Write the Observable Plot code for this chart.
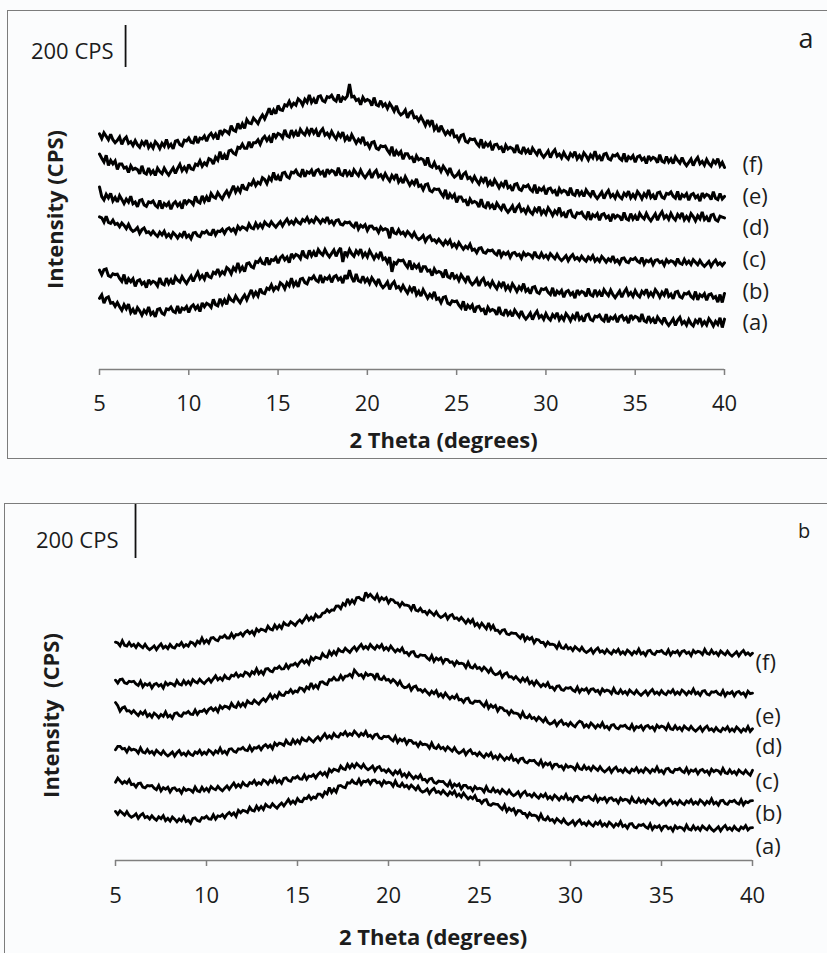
<!DOCTYPE html>
<html>
<head>
<meta charset="utf-8">
<script src="https://cdn.jsdelivr.net/npm/d3@7"></script>
<script src="https://cdn.jsdelivr.net/npm/@observablehq/plot@0.6"></script>
<style>
  html, body { margin: 0; padding: 0; overflow: hidden; width: 827px; height: 953px; background: #fbfcfd; }
  .panel { position: absolute; border: 1.5px solid #7c7c7c; }
  #panelA { left: 6.5px; top: 9.5px; width: 840px; height: 447px; }
  #panelB { left: 3.5px; top: 502.5px; width: 840px; height: 470px; }
  .panel svg { display: block; }
</style>
</head>
<body>
<div id="panelA" class="panel"></div>
<div id="panelB" class="panel"></div>
<script>
// ---- axis / label text ----
const xTicks = [5, 10, 15, 20, 25, 30, 35, 40];
const sampleLabels = ["(a)", "(b)", "(c)", "(d)", "(e)", "(f)"];
const panelTags = ["a", "b"];
const scaleBarCps = 200;
const xTitle = "2 Theta (degrees)";
const yTitles = ["Intensity (CPS)", "Intensity\u00a0 (CPS)"];

// ---- diffractograms, stacked counts (CPS), 2θ = 5° … 40° every 0.125° (8 readings per degree) ----
// panel a
const patternA_a = [
  339,355,316,340,346,316,319,301, 319,299,282,308,289,311,271,287, 264,294,279,259,282,268,298,262,
  273,251,286,290,268,262,289,285, 297,277,271,303,268,292,286,300, 272,298,308,288,302,276,317,299,
  315,309,296,334,309,303,337,311, 332,310,347,331,324,350,332,318, 339,355,332,356,379,349,368,350,
  385,365,361,387,381,403,377,393, 383,413,404,384,413,399,435,399, 416,394,430,434,414,408,435,431,
  445,425,418,450,413,437,430,444, 415,441,447,427,437,411,449,431, 473,437,417,455,423,417,444,418,
  432,410,437,421,405,431,404,390, 401,417,382,406,418,388,395,377, 400,380,364,390,372,394,356,372,
  350,380,360,340,358,344,370,334, 340,318,343,347,316,310,327,323, 326,306,293,325,282,306,293,307,
  272,298,301,281,287,261,296,278, 286,280,260,298,266,260,287,261, 275,253,283,267,252,278,254,240,
  253,269,238,262,277,247,257,239, 266,246,235,261,248,270,237,253, 236,266,252,232,256,242,274,238,
  250,228,259,263,238,232,254,250, 259,239,231,263,225,249,241,255, 225,251,257,237,247,221,259,241,
  253,247,227,265,232,226,254,228, 241,219,250,234,221,247,224,210, 225,241,210,234,248,218,229,211,
  238,218,208,234,222,244,212,228, 212,242,227,207,229,215,246,200, 240
];
const patternA_b = [
  473,451,475,479,447,441,456,452, 454,434,420,452,408,432,418,432, 396,422,427,407,416,390,427,409,
  420,414,398,436,409,403,435,409, 427,405,441,425,416,442,424,410, 429,445,419,443,463,433,448,430,
  462,442,437,463,456,478,450,466, 455,485,476,456,485,471,507,471, 488,466,504,508,490,484,514,510,
  526,506,502,534,499,523,519,533, 506,532,542,522,535,509,551,533, 548,542,528,566,539,533,567,541,
  560,538,571,555,545,571,550,536, 553,569,539,563,579,512,561,543, 571,551,539,565,551,573,538,554,
  536,566,547,527,547,533,560,524, 531,509,535,465,509,503,521,517, 521,501,487,519,475,499,485,499,
  463,489,489,469,473,447,479,461, 467,461,438,476,442,436,461,435, 446,424,451,435,419,445,418,404,
  415,431,398,422,434,404,413,395, 419,399,385,411,395,417,382,398, 378,408,392,372,394,380,409,373,
  383,361,391,395,368,362,384,380, 387,367,357,389,349,373,362,376, 344,370,376,356,366,340,378,360,
  372,366,348,386,356,350,380,354, 370,348,380,364,352,378,356,342, 358,374,344,368,384,354,366,348,
  376,356,346,372,360,382,350,366, 350,380,365,345,368,354,384,348, 359,337,368,372,347,341,363,359,
  368,348,339,371,332,356,347,361, 330,356,360,340,347,321,357,319, 362
];
const patternA_c = [
  727,722,702,730,701,696,711,691, 696,680,698,686,671,691,669,658, 664,676,648,666,674,652,656,643,
  658,644,634,654,641,658,632,644, 629,652,641,626,644,634,658,630, 640,623,650,653,637,633,654,650,
  660,645,643,667,641,659,657,668, 648,668,674,660,670,651,681,667, 679,674,665,693,675,670,696,676,
  692,676,702,690,683,703,689,678, 692,704,684,702,716,694,706,693, 715,701,694,714,706,723,700,712,
  701,724,712,697,714,704,726,698, 707,690,710,713,692,688,702,698, 702,687,678,702,669,687,678,689,
  662,682,683,669,672,653,678,664, 670,665,625,677,651,646,666,646, 654,638,657,645,631,651,630,619,
  626,638,610,628,636,614,618,605, 620,606,593,613,598,615,586,598, 581,604,588,573,587,577,596,568,
  573,556,577,580,558,554,569,565, 569,554,546,570,539,557,548,559, 534,554,557,543,549,530,556,542,
  551,546,532,560,537,532,553,533, 544,528,551,539,528,548,530,519, 530,542,518,536,547,525,533,520,
  539,525,516,536,525,542,516,528, 515,538,526,511,527,517,540,512, 521,504,528,531,513,509,527,523,
  531,516,509,533,502,520,513,524, 500,520,523,509,515,496,523,509, 518,513,500,528,506,501,524,504,
  516,500,523,511,499,519,502,491, 502,514,491,509,521,499,508,495, 508
];
const patternA_d = [
  869,823,808,834,817,839,803,819, 798,828,810,790,811,797,825,789, 797,775,805,809,783,777,798,794,
  802,782,773,805,766,790,780,794, 763,789,799,779,792,766,808,790, 805,799,786,824,799,793,827,801,
  822,800,838,822,816,842,826,812, 834,850,827,851,875,845,864,846, 881,861,858,884,879,901,876,892,
  883,913,905,885,915,901,939,903, 921,899,935,939,918,912,940,936, 949,929,922,954,918,942,935,949,
  920,946,952,932,942,916,954,936, 948,942,923,961,930,924,952,926, 941,919,951,935,923,949,927,913,
  929,945,912,936,948,918,927,909, 933,913,898,924,908,930,893,909, 888,918,898,878,896,882,908,872,
  878,856,880,884,852,846,861,857, 859,839,824,856,811,835,819,833, 796,822,822,802,806,780,812,794,
  800,794,773,811,777,771,798,772, 784,762,792,776,762,788,763,749, 763,779,747,771,784,754,764,746,
  771,751,740,766,753,775,741,757, 740,770,754,734,756,742,771,735, 745,723,753,757,730,724,746,742,
  749,729,720,752,713,737,728,742, 711,737,742,722,731,705,741,723, 734,728,710,748,718,712,742,716,
  732,710,743,727,717,743,722,708, 725,741,711,735,751,721,733,715, 743,723,712,738,724,746,713,729,
  712,742,728,708,732,718,750,714, 726,704,735,739,713,707,730,726, 722
];
const patternA_e = [
  1026,1006,988,1020,972,996,979,993, 953,979,979,959,964,938,970,952, 958,952,932,970,937,931,959,933,
  946,924,959,943,933,959,940,926, 944,960,934,958,977,947,963,945, 976,956,952,978,972,994,968,984,
  974,1004,998,978,1011,997,1037,1001, 1021,999,1041,1045,1030,1024,1058,1054, 1073,1053,1053,1085,1056,1080,1080,1094,
  1072,1098,1110,1090,1106,1080,1124,1106, 1124,1118,1103,1141,1113,1107,1140,1114, 1132,1110,1143,1127,1117,1143,1122,1148,
  1125,1141,1109,1133,1146,1116,1126,1108, 1133,1113,1098,1124,1108,1130,1093,1109, 1088,1118,1098,1078,1096,1082,1108,1072,
  1078,1056,1081,1085,1054,1048,1065,1061, 1064,1044,1029,1061,1016,1040,1024,1038, 1001,1027,1027,1007,1011,985,1017,999,
  1005,999,972,1010,970,964,985,959, 965,943,968,952,933,959,930,916, 925,941,905,929,939,909,915,897,
  919,899,884,910,894,916,879,895, 874,904,886,866,887,873,901,865, 873,851,881,885,859,853,874,870,
  878,858,848,880,839,863,853,867, 834,860,864,844,852,826,861,843, 853,847,828,866,835,829,857,831,
  846,824,855,839,826,852,828,814, 829,845,814,838,853,823,834,816, 843,823,813,839,827,849,817,833,
  817,847,833,813,837,823,855,819, 831,809,841,845,821,815,839,835, 845,825,816,848,808,832,823,837,
  806,832,838,818,828,802,840,822, 834,828,809,847,815,809,838,812, 824
];
const patternA_f = [
  1122,1100,1127,1111,1094,1120,1094,1080, 1091,1107,1072,1096,1107,1077,1085,1067, 1090,1070,1058,1084,1070,1092,1057,1073,
  1055,1085,1072,1052,1077,1063,1096,1060, 1073,1051,1087,1091,1071,1065,1092,1088, 1102,1082,1079,1111,1078,1102,1098,1112,
  1087,1113,1125,1105,1121,1095,1139,1121, 1139,1133,1123,1161,1140,1134,1172,1146, 1170,1148,1190,1174,1171,1197,1185,1171,
  1196,1212,1193,1217,1244,1214,1236,1218, 1257,1237,1234,1260,1255,1277,1252,1268, 1259,1289,1279,1259,1287,1273,1308,1272,
  1288,1266,1299,1303,1280,1274,1299,1295, 1306,1286,1278,1310,1272,1296,1288,1302, 1360,1298,1301,1281,1287,1261,1296,1278,
  1286,1280,1257,1295,1261,1255,1280,1254, 1265,1243,1267,1251,1230,1256,1226,1212, 1220,1236,1198,1222,1229,1199,1203,1185,
  1204,1184,1162,1188,1165,1187,1143,1159, 1131,1161,1139,1119,1134,1120,1144,1108, 1112,1090,1115,1119,1087,1081,1098,1094,
  1097,1077,1064,1096,1054,1078,1065,1079, 1044,1070,1073,1053,1059,1033,1068,1050, 1058,1052,1032,1070,1037,1031,1059,1033,
  1046,1024,1054,1038,1023,1049,1025,1011, 1025,1041,1009,1033,1046,1016,1026,1008, 1033,1013,1002,1028,1015,1037,1003,1019,
  1002,1032,1018,998,1022,1008,1040,1004, 1016,994,1025,1029,1004,998,1021,1017, 1026,1006,997,1029,989,1013,1004,1018,
  987,1013,1018,998,1007,981,1017,999, 1010,1004,985,1023,992,986,1014,988, 1003,981,1012,996,983,1009,985,971,
  986,1002,971,995,1010,980,991,973, 1000,980,969,995,982,1004,970,986, 962
];

// panel b
const patternB_a = [
  182,171,184,176,168,181,167,160, 165,173,156,168,174,159,163,154, 166,156,149,162,155,166,148,156,
  146,161,153,143,154,147,162,144, 149,138,156,158,148,145,159,157, 164,154,153,169,153,165,163,170,
  158,171,178,168,176,163,186,177, 186,183,178,197,186,183,201,188, 200,189,208,200,197,210,201,194,
  205,213,202,214,226,211,220,211, 229,219,218,231,229,240,227,235, 231,246,246,236,254,247,270,252,
  264,253,276,278,272,269,288,286, 297,287,284,300,282,294,291,298, 284,297,298,288,291,278,295,286,
  290,287,275,294,277,274,286,273, 278,267,279,271,262,275,260,253, 257,265,248,260,267,252,256,247,
  259,249,241,254,246,257,238,246, 235,250,238,228,236,229,240,222, 223,212,223,225,207,204,211,209,
  208,198,189,205,182,194,185,192, 172,185,184,174,174,161,176,167, 168,165,152,171,153,150,161,148,
  152,141,155,147,140,153,140,133, 139,147,131,143,150,135,140,131, 144,134,128,141,134,145,128,136,
  127,142,134,124,136,129,144,126, 131,120,135,137,124,121,132,130, 134,124,119,135,115,127,122,129,
  113,126,128,118,123,110,128,119, 124,121,112,131,116,113,128,115, 123,112,128,120,114,127,116,109,
  117,125,110,122,130,115,121,112, 126,116,111,124,118,129,113,121, 122
];
const patternB_b = [
  290,305,295,285,293,286,299,281, 283,272,285,287,272,269,278,276, 278,268,262,278,258,270,264,271,
  254,267,269,259,263,250,268,259, 264,261,253,272,258,255,271,258, 267,256,274,266,262,275,265,258,
  268,276,264,276,287,272,281,272, 289,279,276,289,285,296,281,289, 283,298,293,283,297,290,307,289,
  297,286,304,306,296,293,307,305, 312,302,301,317,301,313,311,318, 306,319,327,317,326,313,337,328,
  338,335,331,350,340,337,356,343, 356,345,359,351,343,356,343,336, 342,350,332,344,348,333,336,327,
  337,327,318,331,322,333,313,321, 309,324,313,303,312,305,317,299, 301,290,302,304,289,286,294,292,
  293,283,276,292,271,283,276,283, 265,278,278,268,271,258,274,265, 268,265,254,273,257,254,267,254,
  260,249,263,255,247,260,247,240, 246,254,237,249,256,241,245,236, 248,238,231,244,236,247,229,237,
  227,242,234,224,236,229,244,226, 231,220,236,238,226,223,235,233, 238,228,223,239,219,231,226,233,
  217,230,232,222,226,213,231,222, 227,224,214,233,218,215,229,216, 223,212,227,219,212,225,213,206,
  213,221,206,218,226,211,217,208, 222,212,207,220,214,225,209,217, 209,224,217,207,219,212,228,210,
  216,205,221,223,211,208,220,218, 223,213,209,225,206,218,214,221, 222
];
const patternB_c = [
  410,423,423,413,415,402,418,409, 412,409,398,417,401,398,411,398, 404,393,408,400,393,406,394,387,
  394,402,387,399,407,392,398,389, 403,393,389,402,397,408,393,401, 394,409,403,393,406,399,416,398,
  405,394,412,414,404,401,414,412, 419,409,407,423,406,418,416,423, 410,423,429,419,427,414,435,426,
  435,432,426,445,433,430,447,434, 445,434,453,445,442,455,446,439, 450,458,446,458,469,454,462,453,
  470,460,457,470,466,477,462,470, 464,479,470,460,471,464,478,460, 464,453,466,468,454,451,460,458,
  460,450,443,459,438,450,443,450, 432,445,444,434,436,423,438,429, 431,428,416,435,418,415,427,414,
  419,408,421,413,405,418,404,397, 402,410,392,404,410,395,398,389, 400,390,382,395,387,398,379,387,
  376,391,382,372,382,375,389,371, 375,364,377,379,365,362,371,369, 371,361,354,370,349,361,354,361,
  343,356,357,347,350,337,354,345, 349,346,336,355,340,337,351,338, 345,334,349,341,334,347,335,328,
  335,343,327,339,346,331,336,327, 340,330,325,338,332,343,327,335, 327,342,335,325,337,330,346,328,
  334,323,339,341,329,326,338,336, 341,331,326,342,323,335,330,337, 321,334,337,327,332,319,338,329,
  335,332,322,341,325,322,336,323, 330,319,335,327,321,334,323,316, 334
];
const patternB_d = [
  585,573,553,565,569,554,555,546, 555,545,537,550,542,553,534,542, 531,546,539,529,541,534,550,532,
  538,527,545,547,537,534,547,545, 552,542,541,557,541,553,552,559, 547,560,566,556,564,551,572,563,
  572,569,563,582,570,567,584,571, 582,571,591,583,581,594,586,579, 591,599,590,602,615,600,612,603,
  622,612,611,624,622,633,620,628, 624,639,637,627,643,636,657,639, 649,638,660,662,655,652,670,668,
  678,668,669,685,671,683,683,690, 680,705,695,685,689,676,694,685, 690,687,674,693,673,670,681,668,
  671,660,670,662,651,664,647,640, 642,650,631,643,646,631,633,624, 633,623,614,627,618,629,609,617,
  605,620,609,599,608,601,613,595, 597,586,599,601,585,582,591,589, 590,580,571,587,564,576,567,574,
  554,567,565,555,554,541,555,546, 546,543,530,549,531,528,539,526, 530,519,531,523,514,527,512,505,
  509,517,500,512,519,504,508,499, 511,501,495,508,516,512,495,503, 494,509,501,491,502,495,510,492,
  497,486,501,503,491,488,499,497, 501,491,487,503,484,496,492,499, 484,497,500,490,495,482,501,492,
  498,495,485,504,488,485,499,486, 493,482,498,490,484,497,486,479, 487,495,479,491,498,483,488,479,
  492,482,477,490,484,495,479,487, 479,494,486,476,487,480,496,478, 488
];
const patternB_e = [
  668,657,670,672,658,655,664,662, 664,654,648,664,643,655,649,656, 639,652,656,646,652,639,659,650,
  657,654,647,666,653,650,666,653, 663,652,670,662,658,671,662,655, 665,673,661,673,684,669,677,668,
  685,675,673,686,683,694,680,688, 683,698,694,684,699,692,710,692, 701,690,709,711,702,699,713,711,
  719,709,710,726,712,724,724,731, 721,734,742,732,741,728,752,743, 753,750,747,766,756,753,774,761,
  774,763,783,775,773,786,778,771, 783,791,778,790,800,785,793,784, 800,790,783,796,788,799,781,789,
  779,794,783,773,782,775,787,769, 771,760,772,774,757,754,762,760, 760,750,743,759,738,750,743,750,
  732,745,744,734,736,723,738,729, 731,728,715,734,716,713,724,711, 715,704,716,708,697,710,695,688,
  691,699,679,691,695,680,681,672, 681,671,662,675,664,675,655,663, 650,665,654,644,653,646,658,640,
  642,631,645,647,633,630,640,638, 641,631,626,642,623,635,630,637, 621,634,636,626,630,617,635,626,
  631,628,618,637,621,618,632,619, 626,615,631,623,617,630,619,612, 620,628,613,625,633,618,624,615,
  629,619,614,627,621,632,616,624, 616,631,624,614,626,619,635,617, 623,612,627,629,616,613,625,623,
  627,617,613,629,610,622,618,625, 610,623,626,616,621,608,627,618, 620
];
const patternB_f = [
  809,806,795,814,797,794,807,794, 800,789,803,795,788,801,788,781, 787,795,781,793,802,787,794,785,
  800,790,787,800,796,807,792,800, 794,809,806,796,812,805,824,806, 816,805,824,826,817,814,828,826,
  834,824,824,840,825,837,836,843, 832,845,851,841,849,836,857,848, 857,854,849,868,857,854,872,859,
  871,860,881,873,871,884,878,871, 883,891,881,893,906,891,901,892, 911,901,903,916,918,929,920,928,
  927,942,943,933,952,945,969,951, 964,953,973,975,967,964,993,977, 986,976,968,984,962,974,966,973,
  954,967,965,955,954,941,955,946, 946,943,929,948,927,924,934,921, 923,912,925,917,908,921,907,900,
  905,913,895,907,911,896,899,890, 900,890,879,892,881,892,870,878, 864,879,868,858,880,858,870,852,
  853,842,853,855,839,836,843,841, 841,831,823,839,815,827,819,826, 806,819,817,807,808,795,809,800,
  801,798,786,805,788,785,797,784, 789,778,792,784,777,790,777,770, 776,784,768,780,787,772,777,768,
  781,771,765,778,771,782,765,773, 764,779,772,762,774,767,783,765, 771,760,776,778,766,763,775,773,
  778,768,764,780,761,773,769,776, 761,774,777,767,772,759,778,769, 775,772,763,782,767,764,779,766,
  771,760,776,768,762,775,764,757, 765,773,758,770,778,763,769,760, 768
];

// ---- drawing ----
const thetaStart = 5, thetaStep = 0.125;
const FONT = "'Open Sans', Lato, sans-serif";
const INK = "#1c1c1c";
const AXIS_GRAY = "#7f7f7f";

function drawPanel(cfg) {
  const plotH = cfg.height - cfg.marginTop - cfg.marginBottom;
  const cpsPerPx = scaleBarCps / cfg.barPx;
  const yMax = plotH * cpsPerPx;

  const rows = cfg.series.flatMap((vals, k) =>
    vals.map((v, i) => ({theta: thetaStart + i * thetaStep, cps: v, sample: sampleLabels[k]})));

  // sample tags sit beside the right end of each trace
  const ends = cfg.series.map((vals, k) => ({
    sample: sampleLabels[k],
    cps: d3.mean(vals.slice(-8)) - cfg.labelNudge[k] * cpsPerPx
  }));

  const centered = {textAnchor: "middle", lineAnchor: "middle", fill: INK, text: d => d};

  return Plot.plot({
    width: cfg.width,
    height: cfg.height,
    marginLeft: cfg.marginLeft,
    marginRight: cfg.marginRight,
    marginTop: cfg.marginTop,
    marginBottom: cfg.marginBottom,
    style: {fontFamily: FONT, fontSize: "22px", color: INK, background: "transparent", overflow: "visible"},
    x: {domain: [5, 40]},
    y: {domain: [0, yMax], axis: null},
    marks: [
      Plot.ruleY([0], {stroke: AXIS_GRAY, strokeWidth: 1.5}),
      Plot.axisX(xTicks, {tickSize: 6, tickPadding: cfg.tickPadding, stroke: AXIS_GRAY, strokeWidth: 1.5,
        fill: INK, label: null, fontSize: 22}),
      Plot.line(rows, {x: "theta", y: "cps", z: "sample", stroke: "#000", strokeWidth: cfg.lineWidth,
        strokeLinejoin: "miter", strokeMiterlimit: 2.5}),
      Plot.text(ends, {x: () => 40, y: "cps", text: "sample", textAnchor: "start", lineAnchor: "middle",
        dx: cfg.labelDx, fill: INK, fontSize: 22}),
      // intensity scale bar
      Plot.ruleX([cfg.barTheta], {y1: yMax - scaleBarCps, y2: yMax, stroke: "#111", strokeWidth: 1.8}),
      Plot.text([`${scaleBarCps} CPS`], {x: cfg.barTheta, y: yMax - scaleBarCps / 2, text: d => d,
        textAnchor: "end", lineAnchor: "middle", dx: cfg.cpsDx, dy: cfg.cpsDy, fill: INK, fontSize: 22}),
      Plot.text([cfg.tag], {...centered, frameAnchor: "top-right", dx: cfg.tagDx, dy: cfg.tagDy, fontSize: cfg.tagSize}),
      Plot.text([cfg.yTitle], {...centered, frameAnchor: "left", rotate: -90, dx: cfg.yTitleDx, dy: cfg.yTitleDy,
        fontWeight: "bold", fontSize: 22}),
      Plot.text([xTitle], {...centered, frameAnchor: "bottom", dx: cfg.xTitleDx, dy: cfg.xTitleDy,
        fontWeight: "bold", fontSize: 22})
    ]
  });
}

document.getElementById("panelA").append(drawPanel({
  series: [patternA_a, patternA_b, patternA_c, patternA_d, patternA_e, patternA_f],
  tag: panelTags[0], tagSize: 27, yTitle: yTitles[0],
  width: 819, height: 447, marginLeft: 91, marginRight: 103, marginTop: 14, marginBottom: 89,
  barPx: 42, barTheta: 6.46, cpsDx: -12, cpsDy: 5, lineWidth: 3.0,
  tickPadding: 20, labelDx: 18, labelNudge: [1, -5, -3, 10, 0, 1],
  tagDx: 81.5, tagDy: 13.5, yTitleDx: -44, yTitleDy: 12, xTitleDx: 31.5, xTitleDy: 71
}));

document.getElementById("panelB").append(drawPanel({
  series: [patternB_a, patternB_b, patternB_c, patternB_d, patternB_e, patternB_f],
  tag: panelTags[1], tagSize: 20, yTitle: yTitles[1],
  width: 822, height: 449, marginLeft: 110, marginRight: 75, marginTop: 0, marginBottom: 93,
  barPx: 54, barTheta: 6.1, cpsDx: -17, cpsDy: 9, lineWidth: 2.8,
  tickPadding: 21, labelDx: 3, labelNudge: [19, 12, 10, 18, 24, 10],
  tagDx: 51.5, tagDy: 27.5, yTitleDx: -64, yTitleDy: 33, xTitleDx: -1, xTitleDy: 77
}));
</script>
</body>
</html>
